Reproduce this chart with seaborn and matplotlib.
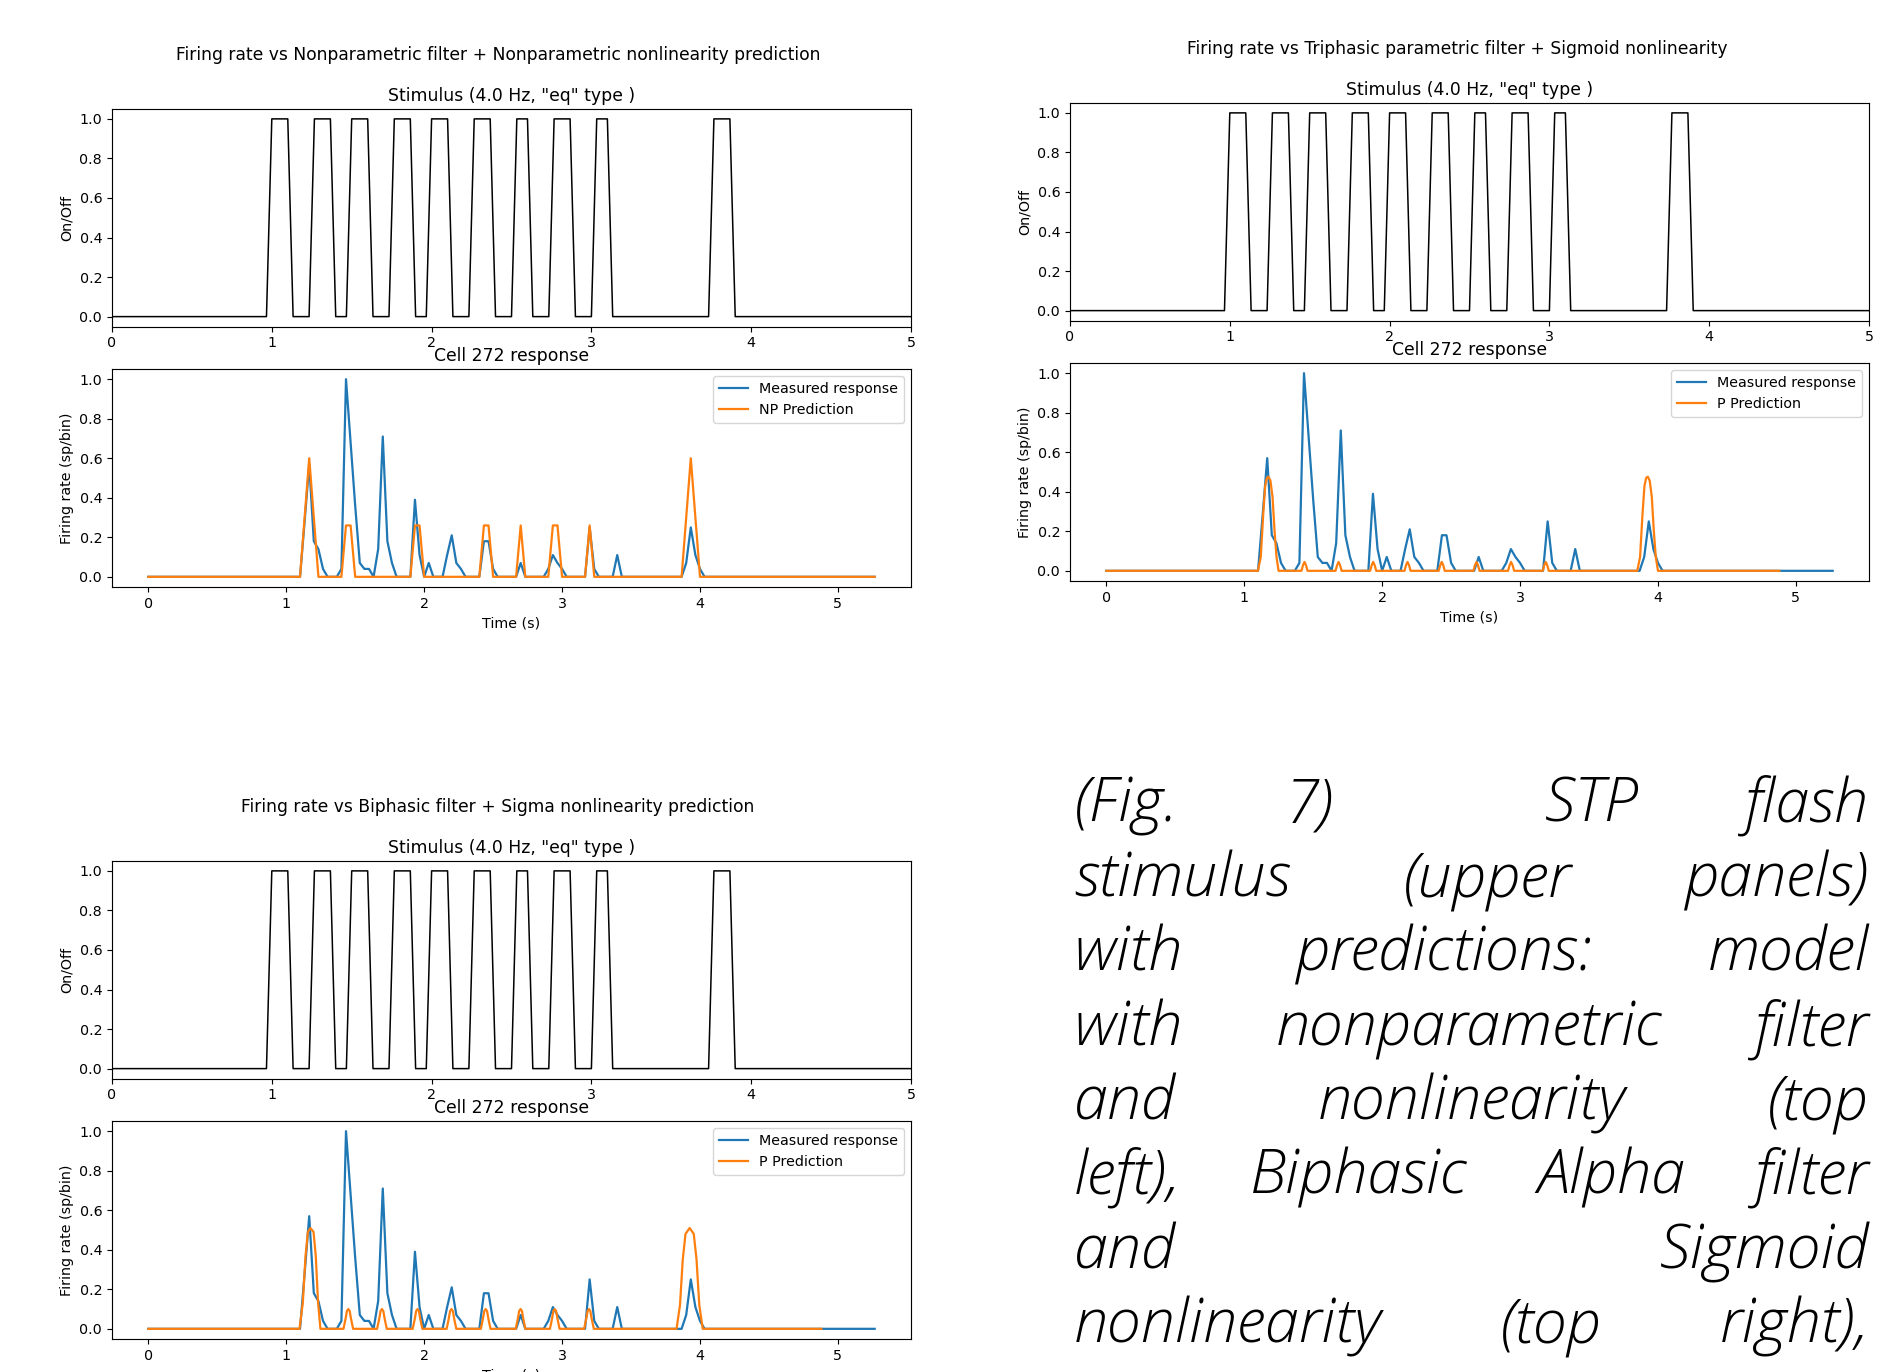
import numpy as np
import matplotlib
matplotlib.use("Agg")
import matplotlib.pyplot as plt
import seaborn as sns

# ── data ──────────────────────────────────────────────────────
# stimulus: 30 Hz frames, flash onsets (s) and number of "on" frames
frame_rate = 30
stim_frames = 151
flash_onsets = [1.0, 1.267, 1.5, 1.767, 2.0, 2.267, 2.533, 2.767, 3.033, 3.767]
flash_len = [4, 4, 4, 4, 4, 4, 3, 4, 3, 4]

# measured firing rate (sp/bin), one value per 1/30 s bin (159 bins)
measured_rate = [0.0] * 30 + [
    0, 0, 0, 0, .28, .57, .18, .14, .04, 0,
    0, 0, .04, 1.0, .68, .36, .07, .04, .04, 0,
    .14, .71, .18, .07, 0, 0, 0, 0, .39, .11,
    0, .07, 0, 0, 0, .11, .21, .07, .04, 0,
    0, 0, 0, .18, .18, .04, 0, 0, 0, 0,
    0, .07, 0, 0, 0, 0, 0, .04, .11, .07,
    .04, 0, 0, 0, 0, 0, .25, .04, 0, 0,
    0, 0, .11, 0, 0, 0, 0, 0, 0, 0,
    0, 0, 0, 0, 0, 0, 0, .07, .25, .11,
    .04, 0, 0, 0, 0, 0, 0, 0, 0, 0,
] + [0.0] * 29

# nonparametric prediction, same bins
np_pred = [0.0] * 30 + [
    0, 0, 0, 0, .3, .6, .3, 0, 0, 0,
    0, 0, 0, .26, .26, 0, 0, 0, 0, 0,
    0, 0, 0, 0, 0, 0, 0, 0, .26, .26,
    0, 0, 0, 0, 0, 0, 0, 0, 0, 0,
    0, 0, 0, .26, .26, 0, 0, 0, 0, 0,
    0, .26, 0, 0, 0, 0, 0, 0, .26, .26,
    0, 0, 0, 0, 0, 0, .26, 0, 0, 0,
    0, 0, 0, 0, 0, 0, 0, 0, 0, 0,
    0, 0, 0, 0, 0, 0, 0, .3, .6, .3,
    0, 0, 0, 0, 0, 0, 0, 0, 0, 0,
] + [0.0] * 29

# triphasic filter + sigmoid prediction (time, rate) vertices
tri_pts = [
    (0.0, 0), (1.099, 0), (1.12, .07), (1.138, .29), (1.152, .43), (1.164, .47),
    (1.176, .476), (1.19, .456), (1.205, .375), (1.22, .2), (1.234, .07), (1.249, 0),
    (1.415, 0), (1.426, .028), (1.437, .045), (1.448, .028), (1.459, 0),
    (1.662, 0), (1.673, .028), (1.684, .045), (1.695, .028), (1.706, 0),
    (1.913, 0), (1.924, .028), (1.935, .045), (1.946, .028), (1.957, 0),
    (2.162, 0), (2.173, .028), (2.184, .045), (2.195, .028), (2.206, 0),
    (2.41, 0), (2.421, .028), (2.432, .045), (2.443, .028), (2.454, 0),
    (2.662, 0), (2.673, .028), (2.684, .045), (2.695, .028), (2.706, 0),
    (2.913, 0), (2.924, .028), (2.935, .045), (2.946, .028), (2.957, 0),
    (3.164, 0), (3.175, .028), (3.186, .045), (3.197, .028), (3.208, 0),
    (3.85, 0), (3.87, .07), (3.888, .29), (3.902, .43), (3.914, .47),
    (3.926, .476), (3.94, .456), (3.955, .375), (3.97, .2), (3.984, .07), (4.0, 0),
    (4.88, 0),
]

# biphasic filter + sigma prediction (time, rate) vertices
bi_pts = [
    (0.0, 0), (1.096, 0), (1.12, .13), (1.14, .37), (1.157, .49), (1.176, .51),
    (1.198, .49), (1.214, .37), (1.231, .13), (1.248, 0),
    (1.415, 0), (1.43, .05), (1.44, .09), (1.45, .1), (1.46, .09), (1.47, .05), (1.485, 0),
    (1.659, 0), (1.674, .05), (1.684, .09), (1.694, .1), (1.704, .09), (1.714, .05), (1.729, 0),
    (1.917, 0), (1.932, .05), (1.942, .09), (1.952, .1), (1.962, .09), (1.972, .05), (1.987, 0),
    (2.163, 0), (2.178, .05), (2.188, .09), (2.198, .1), (2.208, .09), (2.218, .05), (2.233, 0),
    (2.411, 0), (2.426, .05), (2.436, .09), (2.446, .1), (2.456, .09), (2.466, .05), (2.481, 0),
    (2.664, 0), (2.679, .05), (2.689, .09), (2.699, .1), (2.709, .09), (2.719, .05), (2.734, 0),
    (2.912, 0), (2.927, .05), (2.937, .09), (2.947, .1), (2.957, .09), (2.967, .05), (2.982, 0),
    (3.16, 0), (3.175, .05), (3.185, .09), (3.195, .1), (3.205, .09), (3.215, .05), (3.23, 0),
    (3.83, 0), (3.855, .12), (3.875, .35), (3.895, .48), (3.925, .51),
    (3.955, .48), (3.975, .35), (3.995, .12), (4.02, 0),
    (4.88, 0),
]

caption_lines = [
    "(Fig. 7)  STP flash",
    "stimulus (upper panels)",
    "with predictions: model",
    "with nonparametric filter",
    "and nonlinearity (top",
    "left), Biphasic Alpha filter",
    "and Sigmoid",
    "nonlinearity (top right),",
]

# ── derived series ───────────────────────────────────────────
stim_t = np.arange(stim_frames) / frame_rate
stim = np.zeros(stim_frames)
for on, n in zip(flash_onsets, flash_len):
    i0 = int(round(on * frame_rate))
    stim[i0:i0 + n] = 1.0
resp_t = np.arange(len(measured_rate)) / frame_rate
tri_t, tri_v = map(np.array, zip(*tri_pts))
bi_t, bi_v = map(np.array, zip(*bi_pts))

# ── style ────────────────────────────────────────────────────
plt.rcParams.update({
    "font.family": "DejaVu Sans",
    "font.size": 10.3,
    "axes.titlesize": 12.4,
    "axes.labelsize": 10.3,
    "xtick.labelsize": 10.3,
    "ytick.labelsize": 10.3,
    "legend.fontsize": 10.3,
    "axes.linewidth": 0.82,
    "xtick.major.size": 3.6,
    "ytick.major.size": 3.6,
    "xtick.major.width": 0.82,
    "ytick.major.width": 0.82,
})

W, H = 1883, 1372
fig = plt.figure(figsize=(W / 100, H / 100), dpi=100)


def add_ax(left, top, right, bottom):
    return fig.add_axes([left / W, 1 - bottom / H, (right - left) / W, (bottom - top) / H])


BLUE, ORANGE = "#1f77b4", "#ff7f0e"


def draw_panel(dx, dy, title, title_x, pred_t, pred_v, pred_label):
    fig.text(title_x / W, 1 - (55 + dy) / H, title, fontsize=12.3, ha="center", va="center")

    ax_s = add_ax(112 + dx, 109 + dy, 911 + dx, 326.5 + dy)
    sns.lineplot(x=stim_t, y=stim, ax=ax_s, color="k", linewidth=1.1, estimator=None)
    ax_s.set_xlim(0, 5)
    ax_s.set_title('Stimulus (4.0 Hz, "eq" type )')
    ax_s.set_ylabel("On/Off")
    ax_s.set_yticks([0, 0.2, 0.4, 0.6, 0.8, 1.0])

    ax_r = add_ax(112 + dx, 369.3 + dy, 911 + dx, 586.7 + dy)
    sns.lineplot(x=resp_t, y=measured_rate, ax=ax_r, color=BLUE, linewidth=1.6,
                 estimator=None, label="Measured response")
    sns.lineplot(x=pred_t, y=pred_v, ax=ax_r, color=ORANGE, linewidth=1.6,
                 estimator=None, label=pred_label)
    ax_r.set_title("Cell 272 response")
    ax_r.set_ylabel("Firing rate (sp/bin)")
    ax_r.set_xlabel("Time (s)")
    ax_r.set_yticks([0, 0.2, 0.4, 0.6, 0.8, 1.0])
    ax_r.legend(loc="upper right")


draw_panel(0, 0,
           "Firing rate vs Nonparametric filter + Nonparametric nonlinearity prediction",
           498, resp_t, np_pred, "NP Prediction")
draw_panel(958, -6,
           "Firing rate vs Triphasic parametric filter + Sigmoid nonlinearity",
           1457, tri_t, tri_v, "P Prediction")
draw_panel(0, 752,
           "Firing rate vs Biphasic filter + Sigma nonlinearity prediction",
           498, bi_t, bi_v, "P Prediction")

# ── justified caption on the right ───────────────────────────
x_left, x_right = 1074, 1869
baselines = [822 + 74.4 * i for i in range(len(caption_lines))]
renderer = fig.canvas.get_renderer()
for line, base in zip(caption_lines, baselines):
    words = line.split(" ")
    texts = [fig.text(0, 1 - base / H, w, fontsize=44, family="Open Sans",
                      fontweight="light", style="italic", va="baseline", ha="left")
             for w in words]
    widths = [t.get_window_extent(renderer).width if w else 0.0
              for t, w in zip(texts, words)]
    gap = (x_right - x_left - sum(widths)) / (len(words) - 1)
    x = x_left
    for t, w in zip(texts, widths):
        t.set_x(x / W)
        x += w + gap

fig.savefig("out.png", dpi=100)
